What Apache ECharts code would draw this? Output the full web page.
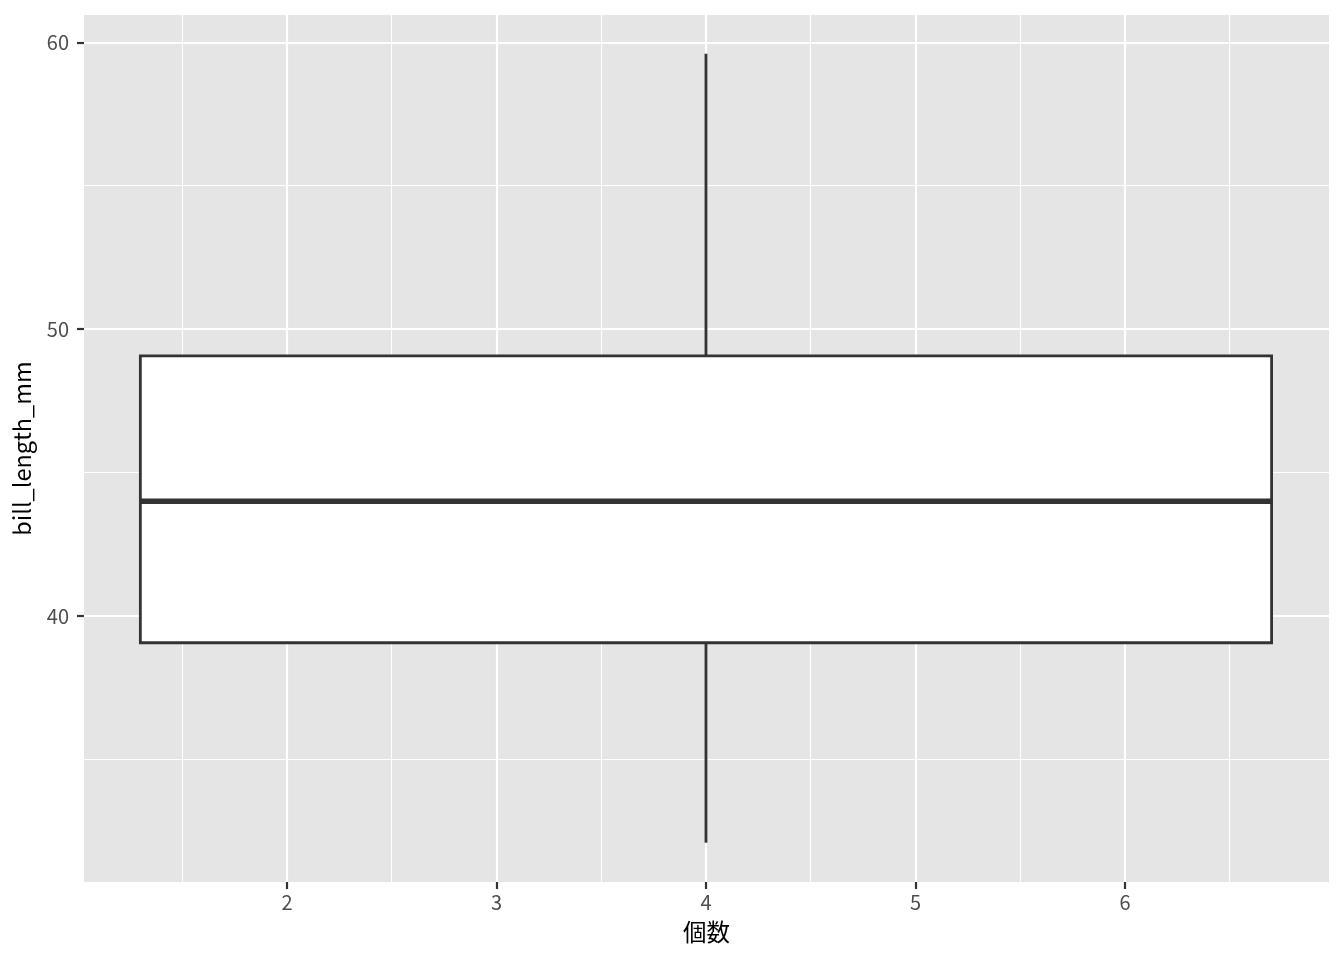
<!DOCTYPE html>
<html>
<head>
<meta charset="utf-8">
<script src="https://cdn.jsdelivr.net/npm/echarts@6/dist/echarts.min.js"></script>
<style>html,body{margin:0;padding:0;background:#fff}#c{width:1344px;height:960px}</style>
</head>
<body>
<div id="c"></div>
<script>
// ---- data ----
const xTicks = [2, 3, 4, 5, 6];
const xMinorTicks = [1.5, 2.5, 3.5, 4.5, 5.5, 6.5];
const yTicks = [40, 50, 60];
const yMinorTicks = [35, 45, 55];
const xRange = [1.031, 6.974];
const yRange = [30.73, 60.95];
// box statistics
const boxXmin = [1.3];
const boxXmax = [6.7];
const boxCenter = [4];
const whiskerLow = [32.1];
const q1 = [39.07];
const median = [44.0];
const q3 = [49.07];
const whiskerHigh = [59.6];
const xTitle = '個数';
const yTitle = 'bill_length_mm';

const boxData = boxCenter.map((c, i) => [boxXmin[i], boxXmax[i], c, whiskerLow[i], q1[i], median[i], q3[i], whiskerHigh[i]]);

const FONT = 'Noto Sans CJK JP';
const chart = echarts.init(document.getElementById('c'), null, {renderer: 'canvas'});

function baseAxis(range, ticks, minor, isX) {
  return {
    type: 'value',
    gridIndex: 0,
    min: range[0], max: range[1],
    axisLine: {show: false},
    axisTick: {show: !minor, customValues: ticks, length: 7, lineStyle: {color: '#333333', width: 2.2}},
    axisLabel: {show: !minor, customValues: ticks, color: '#4D4D4D', fontSize: 20, fontFamily: FONT, margin: isX ? 10 : 15},
    splitLine: {show: true, lineStyle: {color: '#FFFFFF', width: minor ? 1.1 : 2.2}},
    minorTick: {show: false}, minorSplitLine: {show: false}
  };
}

const xMajor = Object.assign(baseAxis(xRange, xTicks, false, true), {
  position: 'bottom', name: xTitle, nameLocation: 'middle', nameGap: 38,
  nameTextStyle: {color: '#000', fontSize: 23.5, fontFamily: FONT}
});
const xMinor = Object.assign(baseAxis(xRange, xMinorTicks, true, true), {position: 'bottom'});
const yMajor = Object.assign(baseAxis(yRange, yTicks, false, false), {
  position: 'left', name: yTitle, nameLocation: 'middle', nameGap: 50, nameRotate: 90,
  nameTextStyle: {color: '#000', fontSize: 23.5, fontFamily: FONT}
});
const yMinor = Object.assign(baseAxis(yRange, yMinorTicks, true, false), {position: 'left'});

chart.setOption({
  animation: false,
  backgroundColor: '#FFFFFF',
  grid: {left: 84, top: 15, right: 15, bottom: 78, show: true, backgroundColor: '#E5E5E5', borderWidth: 0, containLabel: false},
  xAxis: [xMinor, xMajor],
  yAxis: [yMinor, yMajor],
  series: [{
    type: 'custom',
    xAxisIndex: 1, yAxisIndex: 1,
    data: boxData,
    renderItem: function (params, api) {
      const x0 = api.value(0), x1 = api.value(1), xc = api.value(2);
      const lo = api.value(3), b1 = api.value(4), md = api.value(5), b3 = api.value(6), hi = api.value(7);
      const pLT = api.coord([x0, b3]);
      const pRB = api.coord([x1, b1]);
      const pLo = api.coord([xc, lo]);
      const pQ1 = api.coord([xc, b1]);
      const pQ3 = api.coord([xc, b3]);
      const pHi = api.coord([xc, hi]);
      const pML = api.coord([x0, md]);
      const pMR = api.coord([x1, md]);
      const stroke = '#333333';
      return {
        type: 'group',
        children: [
          {type: 'line', shape: {x1: pHi[0], y1: pHi[1], x2: pQ3[0], y2: pQ3[1]}, style: {stroke: stroke, lineWidth: 2.8}},
          {type: 'line', shape: {x1: pQ1[0], y1: pQ1[1], x2: pLo[0], y2: pLo[1]}, style: {stroke: stroke, lineWidth: 2.8}},
          {type: 'rect', shape: {x: pLT[0], y: pLT[1], width: pRB[0] - pLT[0], height: pRB[1] - pLT[1]}, style: {fill: '#FFFFFF', stroke: stroke, lineWidth: 2.8}},
          {type: 'line', shape: {x1: pML[0], y1: pML[1], x2: pMR[0], y2: pMR[1]}, style: {stroke: stroke, lineWidth: 5.6}}
        ]
      };
    }
  }]
});
</script>
</body>
</html>
